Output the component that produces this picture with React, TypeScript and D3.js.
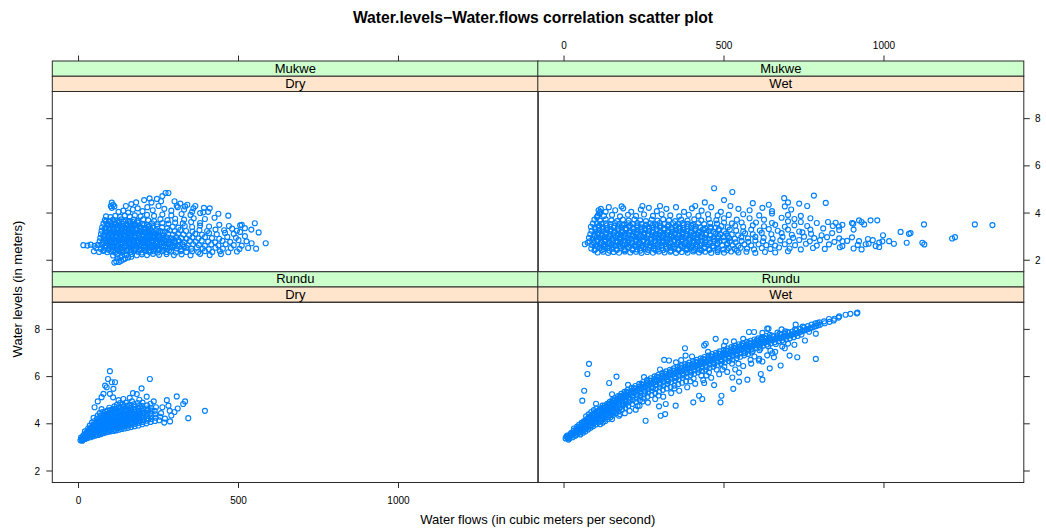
import React from 'react';
import * as d3 from 'd3';

const W = 1046;
const H = 529;

const titleText = 'Water.levels\u2212Water.flows correlation scatter plot';
const xLabel = 'Water flows (in cubic meters per second)';
const yLabel = 'Water levels (in meters)';
const sites = ['Mukwe', 'Rundu'];
const seasons = ['Dry', 'Wet'];
const xTicks = [0, 500, 1000];
const yTicks = [2, 4, 6, 8];
const xDomain = [-82, 1437];
const yDomain = [1.513, 9.15];

// Mukwe, Dry season: [flow, level]
const mukweDry: [number, number][] = [
  [108,2.2],[121,2.24],[136,2.19],[150,2.23],[166,2.26],[182,2.21],[198,2.25],[214,2.22],[233,2.27],[252,2.23],[275,2.26],[298,2.22],[322,2.25],[350,2.21],[380,2.27],[410,2.22],[445,2.26],
  [112,1.9],[118,1.95],[126,1.93],[133,1.98],[140,2.03],[146,2.07],[122,2.08],[155,2.12],[131,2.12],[165,2.15],
  [48,2.38],[64,2.35],[77,2.4],[90,2.34],[102,2.37],[114,2.33],[126,2.39],[138,2.35],[150,2.38],[162,2.34],[174,2.4],[186,2.36],[198,2.33],[210,2.39],[222,2.35],[235,2.38],[248,2.33],[261,2.39],[275,2.35],[289,2.37],[304,2.33],[320,2.39],[337,2.35],[355,2.38],[374,2.34],[395,2.39],[418,2.35],[442,2.38],[468,2.34],[495,2.37],
  [55,2.52],[70,2.48],[82,2.53],[95,2.49],[107,2.54],[119,2.5],[131,2.47],[143,2.53],[155,2.49],[167,2.54],[179,2.5],[191,2.47],[203,2.53],[215,2.49],[227,2.54],[239,2.5],[252,2.47],[265,2.53],[278,2.49],[292,2.54],[306,2.5],[321,2.47],[337,2.53],[353,2.49],[370,2.54],[388,2.5],[407,2.47],[428,2.53],[451,2.49],[476,2.52],[503,2.48],[530,2.52],[555,2.49],
  [15,2.64],[28,2.62],[38,2.66],[50,2.61],[60,2.65],
  [72,2.66],[84,2.63],[96,2.68],[108,2.64],[120,2.61],[132,2.67],[144,2.63],[156,2.68],[168,2.64],[180,2.61],[192,2.67],[204,2.63],[216,2.68],[228,2.64],[240,2.61],[253,2.67],[266,2.63],[280,2.68],[294,2.64],[309,2.61],[325,2.67],[341,2.63],[358,2.68],[376,2.64],[395,2.61],[415,2.67],[437,2.63],[460,2.68],[485,2.64],[510,2.62],[541,2.72],[585,2.72],
  [66,2.8],[78,2.77],[90,2.82],[102,2.78],[114,2.83],[126,2.79],[138,2.76],[150,2.82],[162,2.78],[174,2.83],[186,2.79],[198,2.76],[210,2.82],[222,2.78],[234,2.83],[246,2.79],[259,2.76],[272,2.82],[286,2.78],[300,2.83],[315,2.79],[331,2.76],[348,2.82],[366,2.78],[385,2.83],[405,2.79],[427,2.76],[450,2.82],[474,2.78],[500,2.85],[525,2.8],
  [68,2.95],[80,2.92],[92,2.97],[104,2.93],[116,2.98],[128,2.94],[140,2.91],[152,2.97],[164,2.93],[176,2.98],[188,2.94],[200,2.91],[212,2.97],[224,2.93],[236,2.98],[249,2.94],[262,2.91],[276,2.97],[290,2.93],[305,2.98],[321,2.94],[338,2.91],[356,2.97],[375,2.93],[395,2.98],[417,2.94],[440,2.91],[465,2.99],[492,2.95],[520,3.02],
  [70,3.1],[82,3.07],[94,3.12],[106,3.08],[118,3.13],[130,3.09],[142,3.06],[154,3.12],[166,3.08],[178,3.13],[190,3.09],[202,3.06],[214,3.12],[226,3.08],[239,3.13],[252,3.09],[266,3.06],[280,3.12],[295,3.08],[311,3.13],[328,3.09],[346,3.06],[365,3.12],[386,3.08],[408,3.15],[432,3.1],[458,3.16],[485,3.12],[505,3.2],[563,3.18],
  [72,3.25],[84,3.22],[96,3.27],[108,3.23],[120,3.28],[132,3.24],[144,3.21],[156,3.27],[168,3.23],[180,3.28],[192,3.24],[204,3.21],[216,3.27],[229,3.23],[242,3.28],[256,3.24],[270,3.21],[285,3.27],[301,3.23],[318,3.28],[336,3.24],[356,3.21],[378,3.28],[402,3.24],[428,3.3],[455,3.27],[480,3.34],
  [74,3.4],[86,3.37],[98,3.42],[110,3.38],[122,3.43],[134,3.39],[146,3.36],[158,3.42],[170,3.38],[182,3.43],[194,3.39],[206,3.36],[219,3.42],[232,3.38],[246,3.43],[261,3.39],[277,3.36],[294,3.42],[312,3.38],[332,3.45],[355,3.41],[380,3.47],[408,3.43],[440,3.5],[470,3.45],[505,3.48],
  [78,3.55],[90,3.52],[102,3.57],[114,3.53],[126,3.58],[138,3.54],[150,3.51],[162,3.57],[174,3.53],[187,3.58],[200,3.54],[214,3.51],[229,3.57],[245,3.53],[262,3.58],[281,3.55],[302,3.6],[326,3.56],[352,3.62],[380,3.58],[551,3.57],
  [82,3.7],[95,3.67],[108,3.72],[121,3.68],[134,3.73],[147,3.69],[160,3.66],[173,3.72],[187,3.68],[202,3.73],[218,3.69],[236,3.66],[256,3.74],[278,3.7],[302,3.76],[330,3.72],[360,3.78],[395,3.75],[425,3.8],
  [86,3.86],[100,3.83],[115,3.88],[130,3.84],[145,3.89],[160,3.85],[176,3.9],[194,3.86],[214,3.92],[236,3.88],[262,3.94],[290,3.9],[322,3.96],[350,3.92],
  [104,4.22],[101,4.3],[108,4.35],[104,4.44],[112,4.28],[125,4.05],[140,4.1],[155,4.02],[170,4.15],[148,4.3],[165,4.38],[185,4.2],[200,4.08],[215,4.25],[232,4.12],[250,4.3],[268,4.18],[290,4.1],[310,4.25],[330,4.15],[355,4.05],[380,4.0],
  [180,4.45],[205,4.55],[228,4.45],[245,4.6],[262,4.72],[272,4.85],[281,4.85],[300,4.5],[318,4.4],[340,4.35],[365,4.3],[392,4.22],[410,4.2],[258,4.5],[222,4.62],
  [307,4.31],[333,4.28],[359,4.2],[390,4.03],[405,4.05],[437,3.97],[468,3.89],[520,3.36],[510,3.5],[495,3.25],[540,3.3],
  [88,2.58],[101,2.6],[113,2.57],[125,2.59],[137,2.56],[149,2.6],[161,2.57],[173,2.59],[185,2.56],[197,2.6],[209,2.57],[221,2.59],[233,2.56],[246,2.6],[259,2.57],[272,2.59],[286,2.56],[300,2.6],[315,2.57],[331,2.59],
  [85,2.88],[97,2.86],[109,2.89],[121,2.87],[133,2.85],[145,2.89],[157,2.86],[169,2.88],[181,2.85],[193,2.89],[205,2.86],[217,2.88],[229,2.85],[241,2.89],[254,2.86],[267,2.88],[281,2.85],[296,2.89],[312,2.86],
  [88,3.18],[100,3.16],[112,3.19],[124,3.17],[136,3.15],[148,3.19],[160,3.16],[172,3.18],[184,3.15],[196,3.19],[208,3.16],[221,3.18],[234,3.15],[248,3.19],[263,3.16],
  [92,3.48],[104,3.46],[116,3.49],[128,3.47],[140,3.45],[152,3.49],[164,3.46],[176,3.48],[190,3.45],[205,3.49],[222,3.46],
  [80,2.43],[94,2.44],[108,2.42],[122,2.45],[136,2.43],[150,2.44],[164,2.42],[178,2.45],[192,2.43],[206,2.44],[220,2.42],[234,2.45],[250,2.43],[266,2.44],[283,2.42],
  [75,2.73],[89,2.74],[103,2.72],[117,2.75],[131,2.73],[145,2.74],[159,2.72],[173,2.75],[187,2.73],[201,2.74],[215,2.72],[229,2.75],[245,2.73],[262,2.74],[280,2.72],[300,2.75],
  [77,3.03],[91,3.04],[105,3.02],[119,3.05],[133,3.03],[147,3.04],[161,3.02],[175,3.05],[189,3.03],[203,3.04],[217,3.02],[232,3.05],[248,3.03],[265,3.04],
  [81,3.33],[95,3.34],[109,3.32],[123,3.35],[137,3.33],[151,3.34],[165,3.32],[179,3.35],[193,3.33],[208,3.34],[224,3.32],
  [85,3.63],[99,3.64],[113,3.62],[127,3.65],[141,3.63],[155,3.64],[169,3.62],[184,3.65]
];

// Mukwe, Wet season
const mukweWet: [number, number][] = [
  [105,2.33],[122,2.36],[138,2.31],[155,2.35],[172,2.32],[190,2.37],[207,2.33],[225,2.36],[242,2.31],[260,2.35],[278,2.32],[296,2.37],[314,2.33],[332,2.36],[350,2.31],[368,2.35],[386,2.32],[404,2.37],[422,2.33],[441,2.36],[460,2.31],[480,2.35],[500,2.32],[522,2.37],[545,2.33],[570,2.36],[598,2.31],[628,2.35],[660,2.33],[700,2.38],
  [85,2.5],[98,2.47],[111,2.52],[124,2.48],[137,2.53],[150,2.49],[163,2.46],[176,2.52],[189,2.48],[202,2.53],[215,2.49],[228,2.46],[241,2.52],[254,2.48],[267,2.53],[280,2.49],[293,2.46],[306,2.52],[319,2.48],[332,2.53],[345,2.49],[358,2.46],[371,2.52],[384,2.48],[397,2.53],[410,2.49],[424,2.46],[438,2.52],[452,2.48],[467,2.53],[482,2.49],[498,2.46],[515,2.52],[533,2.48],[552,2.53],[572,2.49],[594,2.46],[618,2.52],[645,2.48],[672,2.54],[705,2.5],[740,2.46],[778,2.52],[815,2.48],[862,2.55],[905,2.5],[930,2.46],[985,2.56],
  [65,2.68],[74,2.74],[88,2.65],[100,2.62],[112,2.67],[124,2.63],[136,2.68],[148,2.64],[160,2.61],[172,2.67],[184,2.63],[196,2.68],[208,2.64],[220,2.61],[232,2.67],[244,2.63],[256,2.68],[268,2.64],[280,2.61],[292,2.67],[304,2.63],[316,2.68],[328,2.64],[340,2.61],[352,2.67],[364,2.63],[376,2.68],[388,2.64],[400,2.61],[412,2.67],[425,2.63],[438,2.68],[451,2.64],[465,2.61],[479,2.67],[494,2.63],[510,2.68],[527,2.64],[545,2.61],[564,2.67],[585,2.63],[608,2.68],[632,2.64],[660,2.62],[690,2.68],[722,2.64],[756,2.7],[790,2.62],[828,2.67],[870,2.6],[918,2.65],[952,2.7],[1031,2.7],[1071,2.74],[1120,2.74],[1126,2.67],
  [80,2.8],[92,2.77],[104,2.82],[116,2.78],[128,2.83],[140,2.79],[152,2.76],[164,2.82],[176,2.78],[188,2.83],[200,2.79],[212,2.76],[224,2.82],[236,2.78],[248,2.83],[260,2.79],[272,2.76],[284,2.82],[296,2.78],[308,2.83],[320,2.79],[332,2.76],[344,2.82],[356,2.78],[368,2.83],[380,2.79],[392,2.76],[404,2.82],[416,2.78],[429,2.83],[442,2.79],[456,2.76],[470,2.82],[485,2.78],[501,2.83],[518,2.79],[536,2.76],[555,2.82],[576,2.78],[598,2.84],[622,2.8],[648,2.76],[676,2.84],[704,2.8],[735,2.86],[768,2.8],[800,2.85],[845,2.78],[885,2.82],[965,2.85],[995,2.8],
  [78,2.95],[90,2.92],[102,2.97],[114,2.93],[126,2.98],[138,2.94],[150,2.91],[162,2.97],[174,2.93],[186,2.98],[198,2.94],[210,2.91],[222,2.97],[234,2.93],[246,2.98],[258,2.94],[270,2.91],[282,2.97],[294,2.93],[306,2.98],[318,2.94],[330,2.91],[342,2.97],[354,2.93],[366,2.98],[378,2.94],[390,2.91],[402,2.97],[414,2.93],[427,2.98],[440,2.94],[454,2.91],[468,2.97],[483,2.93],[499,2.98],[516,2.94],[534,2.91],[554,2.97],[575,2.93],[598,2.99],[624,2.95],[652,2.91],[683,2.99],[716,2.95],[750,3.0],[782,2.94],[822,2.98],[860,2.93],[900,2.97],[1213,2.92],[1222,2.98],
  [82,3.1],[94,3.07],[106,3.12],[118,3.08],[130,3.13],[142,3.09],[154,3.06],[166,3.12],[178,3.08],[190,3.13],[202,3.09],[214,3.06],[226,3.12],[238,3.08],[250,3.13],[262,3.09],[274,3.06],[286,3.12],[298,3.08],[310,3.13],[322,3.09],[334,3.06],[346,3.12],[358,3.08],[370,3.13],[382,3.09],[394,3.06],[406,3.12],[418,3.08],[431,3.13],[444,3.09],[458,3.06],[473,3.12],[489,3.08],[506,3.13],[524,3.09],[544,3.06],[566,3.14],[590,3.1],[618,3.16],[648,3.1],[680,3.15],[712,3.08],[745,3.18],[772,3.12],[805,3.06],[838,3.15],[1052,3.2],[1078,3.12],[1083,3.15],
  [86,3.25],[98,3.22],[110,3.27],[122,3.23],[134,3.28],[146,3.24],[158,3.21],[170,3.27],[182,3.23],[194,3.28],[206,3.24],[218,3.21],[230,3.27],[242,3.23],[254,3.28],[266,3.24],[278,3.21],[290,3.27],[302,3.23],[314,3.28],[326,3.24],[338,3.21],[350,3.27],[362,3.23],[374,3.28],[386,3.24],[398,3.21],[411,3.27],[424,3.23],[438,3.28],[452,3.24],[467,3.21],[483,3.27],[500,3.23],[518,3.3],[538,3.26],[560,3.22],[585,3.3],[612,3.26],[640,3.32],[668,3.25],[700,3.3],[735,3.22],[770,3.3],[810,3.35],[860,3.28],[905,3.3],
  [84,3.42],[96,3.38],[108,3.43],[120,3.39],[132,3.36],[144,3.42],[156,3.38],[168,3.43],[180,3.39],[192,3.36],[204,3.42],[216,3.38],[228,3.43],[240,3.39],[252,3.36],[264,3.42],[276,3.38],[288,3.43],[300,3.39],[312,3.36],[324,3.42],[336,3.38],[348,3.43],[360,3.39],[372,3.36],[385,3.42],[398,3.38],[412,3.43],[426,3.39],[441,3.36],[457,3.42],[474,3.38],[492,3.45],[512,3.4],[535,3.46],[560,3.42],[590,3.48],[625,3.44],[660,3.5],[690,3.42],[720,3.48],[760,3.45],[840,3.45],[870,3.5],[1125,3.52],[1284,3.52],[1339,3.49],
  [90,3.55],[103,3.58],[117,3.54],[131,3.57],[145,3.53],[159,3.58],[173,3.54],[187,3.51],[201,3.57],[215,3.53],[229,3.58],[243,3.54],[257,3.51],[271,3.57],[285,3.53],[299,3.58],[313,3.54],[327,3.51],[341,3.57],[356,3.53],[371,3.58],[387,3.54],[403,3.51],[420,3.57],[438,3.53],[457,3.58],[478,3.55],[500,3.6],[525,3.56],[555,3.6],[600,3.6],[650,3.58],[700,3.65],[740,3.62],[790,3.58],[825,3.62],[900,3.58],[930,3.62],
  [95,3.72],[112,3.68],[130,3.73],[148,3.69],[166,3.66],[184,3.72],[202,3.68],[220,3.73],[238,3.69],[256,3.66],[274,3.72],[292,3.68],[310,3.73],[328,3.69],[347,3.66],[366,3.72],[386,3.68],[407,3.73],[429,3.69],[452,3.75],[476,3.7],[500,3.78],[540,3.72],[580,3.78],[625,3.72],[680,3.8],[720,3.75],[770,3.78],
  [103,3.82],[106,3.9],[110,3.98],[113,4.05],[108,4.12],[115,4.18],[104,3.85],
  [125,3.88],[150,3.92],[175,3.86],[200,3.93],[225,3.88],[250,3.94],[278,3.88],[305,3.95],[332,3.9],[360,3.86],[390,3.93],[420,3.88],[450,3.95],[480,3.9],[515,3.92],[560,3.95],[610,3.9],[650,3.98],[700,3.92],[740,3.88],
  [130,4.05],[160,4.12],[185,4.2],[210,4.05],[240,4.15],[265,4.22],[290,4.08],[320,4.18],[350,4.25],[375,4.05],[400,4.2],[430,4.1],[460,4.25],[490,4.05],[520,4.3],[545,4.18],[580,4.12],[620,4.22],[650,4.08],[690,4.28],[710,4.15],[245,4.3],[180,4.28],[140,4.25],[300,4.3],[410,4.3],
  [469,5.05],[526,4.89],[781,4.74],[688,4.63],[818,4.43],[440,4.45],[590,4.42],[500,4.55],[640,4.35],[735,4.4],[760,4.3],[700,4.45],
  [849,3.59],[859,3.43],[922,3.69],[958,3.69],[979,3.69],[938,3.52],[904,3.55],[870,2.81],[922,2.81],[943,2.68],[974,2.6],[1016,2.81],[997,3.06],[985,2.75],[950,2.9],
  [95,2.42],[118,2.43],[142,2.41],[166,2.44],[190,2.42],[214,2.43],[238,2.41],[262,2.44],[286,2.42],[310,2.43],[334,2.41],[358,2.44],[382,2.42],[406,2.43],[430,2.41],[455,2.44],[480,2.42],[510,2.43],[540,2.41],
  [94,2.72],[118,2.73],[142,2.71],[166,2.74],[190,2.72],[214,2.73],[238,2.71],[262,2.74],[286,2.72],[310,2.73],[334,2.71],[358,2.74],[382,2.72],[406,2.73],[430,2.71],[455,2.74],[480,2.72],[510,2.73],
  [96,3.02],[120,3.03],[144,3.01],[168,3.04],[192,3.02],[216,3.03],[240,3.01],[264,3.04],[288,3.02],[312,3.03],[336,3.01],[360,3.04],[384,3.02],[408,3.03],[432,3.01],[457,3.04],[482,3.02],[512,3.03],
  [98,3.32],[122,3.33],[146,3.31],[170,3.34],[194,3.32],[218,3.33],[242,3.31],[266,3.34],[290,3.32],[314,3.33],[338,3.31],[362,3.34],[386,3.32],[410,3.33],[434,3.31],[459,3.34],[484,3.32],
  [104,2.57],[128,2.58],[152,2.56],[176,2.59],[200,2.57],[224,2.58],[248,2.56],[272,2.59],[296,2.57],[320,2.58],[344,2.56],[368,2.59],[392,2.57],[416,2.58],[440,2.56],[465,2.59],
  [106,2.87],[130,2.88],[154,2.86],[178,2.89],[202,2.87],[226,2.88],[250,2.86],[274,2.89],[298,2.87],[322,2.88],[346,2.86],[370,2.89],[394,2.87],[418,2.88],[442,2.86],[467,2.89],
  [108,3.17],[132,3.18],[156,3.16],[180,3.19],[204,3.17],[228,3.18],[252,3.16],[276,3.19],[300,3.17],[324,3.18],[348,3.16],[372,3.19],[396,3.17],[420,3.18],[444,3.16],
  [110,3.47],[134,3.48],[158,3.46],[182,3.49],[206,3.47],[230,3.48],[254,3.46],[278,3.49],[302,3.47],[326,3.48],[350,3.46],[374,3.49],[398,3.47]
];

// Rundu, Dry season
const runduDry: [number, number][] = [
  [6,3.3],[9,3.36],[12,3.28],[8,3.42],
  [15,3.33],[17,3.4],[14,3.48],[18,3.55],
  [21,3.36],[23,3.44],[22,3.52],[24,3.6],[20,3.68],
  [28,3.4],[30,3.48],[31,3.56],[29,3.64],[32,3.72],[30,3.8],
  [37,3.43],[38,3.51],[39,3.59],[36,3.67],[40,3.75],[38,3.83],[35,3.92],
  [45,3.47],[46,3.55],[47,3.63],[44,3.71],[48,3.79],[46,3.87],[45,3.96],[42,4.05],
  [53,3.5],[55,3.58],[54,3.66],[52,3.74],[56,3.82],[54,3.9],[53,4.0],[50,4.12],[47,4.25],
  [61,3.53],[63,3.61],[62,3.69],[60,3.77],[64,3.85],[62,3.93],[61,4.02],[63,4.12],[58,4.22],[60,4.35],
  [69,3.56],[71,3.64],[70,3.72],[68,3.8],[72,3.88],[70,3.96],[69,4.05],[71,4.14],[68,4.24],[70,4.34],[66,4.45],
  [77,3.6],[79,3.68],[78,3.76],[76,3.84],[80,3.92],[78,4.0],[77,4.08],[79,4.17],[76,4.27],[78,4.37],[75,4.5],[72,4.62],
  [85,3.63],[87,3.71],[86,3.79],[84,3.87],[88,3.95],[86,4.03],[85,4.12],[87,4.21],[84,4.3],[86,4.4],[83,4.52],
  [93,3.66],[95,3.74],[94,3.82],[92,3.9],[96,3.98],[94,4.06],[93,4.15],[95,4.24],[92,4.34],[94,4.44],[91,4.56],[96,4.68],
  [101,3.68],[103,3.77],[102,3.85],[100,3.93],[104,4.01],[102,4.09],[101,4.18],[103,4.27],[100,4.37],[102,4.47],[99,4.58],
  [109,3.7],[111,3.79],[110,3.88],[108,3.96],[112,4.04],[110,4.12],[109,4.21],[111,4.3],[108,4.4],[110,4.5],[107,4.62],[112,4.74],
  [117,3.72],[119,3.82],[118,3.91],[116,3.99],[120,4.07],[118,4.15],[117,4.24],[119,4.33],[116,4.43],[118,4.53],[115,4.64],[120,4.8],
  [126,3.75],[128,3.85],[127,3.94],[125,4.02],[129,4.1],[127,4.18],[126,4.27],[128,4.36],[125,4.46],[127,4.56],[124,4.68],[130,4.88],
  [135,3.78],[137,3.88],[136,3.97],[134,4.05],[138,4.13],[136,4.21],[135,4.3],[137,4.39],[134,4.49],[136,4.59],[133,4.71],[138,4.82],
  [144,3.8],[146,3.91],[145,4.0],[143,4.08],[147,4.16],[145,4.24],[144,4.33],[146,4.42],[143,4.52],[145,4.62],[142,4.74],[148,4.9],
  [154,3.83],[156,3.94],[155,4.03],[153,4.11],[157,4.19],[155,4.27],[154,4.36],[156,4.45],[153,4.55],[155,4.65],[152,4.77],
  [164,3.86],[166,3.97],[165,4.06],[163,4.14],[167,4.22],[165,4.3],[164,4.39],[166,4.48],[163,4.58],[165,4.68],[162,4.8],[167,4.95],
  [175,3.9],[177,4.0],[176,4.09],[174,4.17],[178,4.25],[176,4.33],[175,4.42],[177,4.51],[174,4.61],[176,4.71],[173,4.83],
  [187,3.93],[189,4.04],[188,4.13],[186,4.21],[190,4.29],[188,4.37],[187,4.46],[189,4.55],[186,4.65],[188,4.75],[185,4.88],[190,5.02],
  [199,3.98],[201,4.08],[200,4.17],[198,4.26],[202,4.35],[200,4.44],[199,4.54],[201,4.64],[198,4.76],[200,4.9],
  [212,4.02],[214,4.13],[213,4.23],[211,4.33],[215,4.43],[213,4.53],[212,4.65],[214,4.78],[213,5.15],
  [225,4.08],[227,4.2],[226,4.32],[224,4.44],[228,4.56],[226,4.68],[225,4.85],
  [239,4.12],[241,4.26],[240,4.4],[238,4.55],[242,4.7],[235,4.95],
  [252,4.15],[258,4.45],[262,4.7],[255,4.3],[270,4.22],[276,5.0],[281,4.77],[286,4.1],[290,4.35],[300,4.5],[307,5.16],[327,4.84],[333,4.95],[343,4.24],[395,4.55],[268,4.05],[285,4.55],[310,4.65],
  [98,6.23],[223,5.9],[92,5.9],[104,5.76],[114,5.76],[83,5.62],[88,5.55],[109,5.48],[78,5.27],[72,5.13],[98,5.27],[197,5.5],[182,5.26],[160,5.1],[140,5.05],[125,5.0],[170,5.3],[60,4.95],[50,4.7],[108,5.12],
  [11,3.32],[19,3.44],[26,3.48],[34,3.54],[42,3.59],[50,3.62],[58,3.66],[66,3.7],[74,3.73],[82,3.77],[90,3.8],[98,3.83],[106,3.86],[114,3.88],[122,3.9],[131,3.93],[140,3.96],[150,3.99],[160,4.02],[170,4.05],[181,4.08],[193,4.12],[205,4.16],[218,4.2],
  [26,3.64],[34,3.68],[42,3.72],[50,3.77],[58,3.81],[66,3.86],[74,3.9],[82,3.95],[90,3.99],[98,4.03],[106,4.07],[114,4.11],[122,4.14],[131,4.18],[140,4.22],[150,4.26],[160,4.3],[170,4.34],[181,4.38],[193,4.42],[205,4.46],
  [50,3.93],[66,4.1],[82,4.26],[98,4.42],[114,4.47],[131,4.52],[150,4.6],[170,4.63],[193,4.7],[218,4.6]
];

// Rundu, Wet season
const runduWet: [number, number][] = [
  [5,3.38],[7,3.45],[12,3.4],[10,3.5],[14,3.33],
  [18,3.47],[20,3.57],[17,3.38],
  [25,3.52],[23,3.62],[27,3.43],
  [32,3.6],[30,3.7],[34,3.5],[31,3.8],
  [40,3.68],[38,3.78],[42,3.58],[41,3.88],
  [48,3.75],[46,3.86],[50,3.65],[47,3.96],[51,3.55],
  [56,3.83],[54,3.94],[58,3.72],[55,4.04],[59,3.62],
  [64,3.9],[62,4.01],[66,3.79],[63,4.12],[67,3.68],
  [72,3.98],[70,4.09],[74,3.87],[71,4.2],[75,3.76],[69,4.32],
  [80,4.06],[78,4.17],[82,3.95],[79,4.28],[83,3.83],[77,4.4],
  [88,4.14],[86,4.25],[90,4.02],[87,4.36],[91,3.9],[85,4.5],
  [96,4.22],[94,4.33],[98,4.1],[95,4.44],[99,3.97],[93,4.58],
  [104,4.3],[102,4.41],[106,4.18],[103,4.52],[107,4.05],[101,4.66],
  [112,4.37],[110,4.49],[114,4.25],[111,4.6],[115,4.12],[113,3.98],
  [120,4.45],[118,4.57],[122,4.33],[119,4.68],[123,4.2],[121,4.05],
  [128,4.53],[126,4.65],[130,4.41],[127,4.77],[131,4.28],[129,4.12],
  [136,4.61],[134,4.73],[138,4.48],[135,4.85],[139,4.35],[137,4.2],
  [144,4.69],[142,4.81],[146,4.56],[143,4.93],[147,4.43],[145,4.28],
  [152,4.77],[150,4.89],[154,4.64],[151,5.01],[155,4.5],[153,4.36],
  [160,4.85],[158,4.97],[162,4.72],[159,5.09],[163,4.58],[161,4.44],
  [170,4.94],[168,5.06],[172,4.81],[169,5.18],[173,4.67],[171,4.52],
  [180,5.03],[178,5.15],[182,4.9],[179,5.27],[183,4.76],[181,4.6],
  [190,5.12],[188,5.24],[192,4.99],[189,5.36],[193,4.84],[191,4.68],
  [200,5.2],[198,5.32],[202,5.07],[199,5.44],[203,4.92],[201,4.76],
  [212,5.28],[210,5.4],[214,5.15],[211,5.52],[215,5.0],[213,4.84],
  [224,5.36],[222,5.48],[226,5.23],[223,5.6],[227,5.08],[225,4.92],
  [236,5.45],[234,5.57],[238,5.32],[235,5.69],[239,5.17],[237,5.0],
  [248,5.53],[246,5.65],[250,5.4],[247,5.77],[251,5.25],[249,5.08],
  [260,5.61],[258,5.73],[262,5.48],[259,5.85],[263,5.33],[261,5.15],
  [272,5.69],[270,5.81],[274,5.56],[271,5.93],[275,5.41],[273,5.22],
  [284,5.77],[282,5.89],[286,5.64],[283,6.01],[287,5.48],[285,5.3],
  [296,5.84],[294,5.96],[298,5.71],[295,6.08],[299,5.55],[297,5.37],
  [308,5.91],[306,6.03],[310,5.78],[307,6.15],[311,5.62],[309,5.44],
  [320,5.98],[318,6.1],[322,5.85],[319,6.22],[323,5.69],[321,5.5],
  [332,6.05],[330,6.17],[334,5.92],[331,6.29],[335,5.76],[333,5.56],
  [344,6.11],[342,6.23],[346,5.98],[343,6.35],[347,5.82],[345,5.62],
  [356,6.17],[354,6.29],[358,6.04],[355,6.41],[359,5.88],[357,5.68],
  [368,6.23],[366,6.35],[370,6.1],[367,6.47],[371,5.94],[369,5.74],
  [380,6.29],[378,6.41],[382,6.16],[379,6.53],[383,6.0],[381,5.8],
  [392,6.35],[390,6.47],[394,6.22],[391,6.59],[395,6.06],
  [404,6.41],[402,6.53],[406,6.28],[403,6.65],[407,6.12],[405,5.92],
  [416,6.47],[414,6.59],[418,6.34],[415,6.71],[419,6.18],
  [428,6.53],[426,6.65],[430,6.4],[427,6.77],[431,6.24],[429,6.05],
  [440,6.59],[438,6.71],[442,6.46],[439,6.83],[443,6.3],
  [452,6.65],[450,6.77],[454,6.52],[451,6.89],[455,6.36],[453,6.18],
  [464,6.71],[462,6.83],[466,6.58],[463,6.95],[467,6.42],
  [476,6.77],[474,6.89],[478,6.64],[475,7.01],[479,6.48],[477,6.3],
  [488,6.83],[486,6.95],[490,6.7],[487,7.07],[491,6.54],
  [500,6.89],[498,7.01],[502,6.76],[499,7.13],[503,6.6],[501,6.42],
  [512,6.95],[510,7.07],[514,6.82],[511,7.19],[515,6.66],
  [524,7.01],[522,7.13],[526,6.88],[523,7.25],[527,6.72],[525,6.55],
  [536,7.07],[534,7.19],[538,6.94],[535,7.31],[539,6.78],
  [548,7.13],[546,7.25],[550,7.0],[547,7.37],[551,6.84],
  [560,7.18],[558,7.3],[562,7.06],[559,7.42],[563,6.9],
  [572,7.23],[570,7.35],[574,7.11],[571,7.47],[575,6.96],
  [584,7.28],[582,7.4],[586,7.16],[583,7.52],[587,7.02],
  [596,7.33],[594,7.45],[598,7.21],[595,7.57],
  [608,7.38],[606,7.5],[610,7.26],[607,7.62],[611,7.12],
  [620,7.43],[618,7.55],[622,7.31],[619,7.67],
  [632,7.48],[630,7.6],[634,7.36],[631,7.72],
  [644,7.53],[642,7.65],[646,7.41],[643,7.77],
  [656,7.58],[654,7.7],[658,7.46],
  [668,7.62],[666,7.74],[670,7.5],[667,7.86],
  [680,7.66],[678,7.78],[682,7.54],
  [692,7.7],[690,7.82],[694,7.58],[691,7.92],
  [704,7.74],[702,7.86],[706,7.62],
  [716,7.79],[714,7.91],[718,7.67],
  [728,7.84],[726,7.96],[730,7.72],
  [740,7.9],[738,8.02],[742,7.78],
  [752,7.96],[750,8.08],
  [764,8.02],[762,8.14],[766,7.9],
  [776,8.08],[774,8.2],
  [788,8.14],[786,8.26],
  [800,8.2],[798,8.3],
  [815,8.26],[813,8.34],
  [830,8.32],[828,8.44],
  [845,8.45],[843,8.38],
  [860,8.55],[858,8.5],
  [880,8.62],[895,8.66],[917,8.71],[915,8.68],
  [78,6.54],[73,6.11],[63,5.4],[141,5.73],[164,6.0],[302,4.34],[316,4.41],[297,4.74],[349,4.77],[404,4.91],[432,5.05],[422,5.19],
  [378,7.2],[474,7.6],[505,7.49],[531,7.49],[573,5.87],[615,6.11],[620,5.87],[547,6.17],[526,5.96],[469,5.64],[438,5.73],
  [705,6.89],[729,6.82],[787,7.82],[753,7.53],[656,6.82],[651,6.99],[620,6.64],[583,6.71],[438,7.32],[635,8.03],[594,7.89],
  [724,8.2],[792,8.27],[682,7.28],[57,4.98],[120,4.77],[172,4.34],[224,4.6],[255,4.13],[236,4.77],[318,4.84],
  [443,7.39],[578,7.89],[615,7.6],[639,8.03],[787,6.75],[677,6.47],[643,6.35],[609,6.68],[547,5.79],[492,5.19],[489,4.91],
  [529,5.48],[380,6.89],[328,6.68],[313,6.71],[366,6.7],
  [150,4.2],[175,4.4],[205,4.55],[230,4.75],[262,4.9],[285,5.05],[310,5.15],[335,5.3],[360,5.4],[385,5.55],[410,5.7],[435,5.85],[460,5.95],[485,6.1],[510,6.2],[535,6.3],[560,6.45],[585,6.55],[610,6.75],[635,6.9],[660,7.05],[690,7.2],[720,7.35],
  [190,4.45],[245,4.95],[295,5.2],[345,5.5],[395,5.8],[445,6.05],[495,6.3],[545,6.55],[595,6.85],[645,7.1],[700,7.4],
  [200,5.65],[250,5.98],[300,6.3],[350,6.6],[400,6.85],[450,7.05],[500,7.3],[560,7.6],[620,7.85],[680,8.0],[150,5.25],[100,4.85],
  [10,3.44],[22,3.52],[36,3.66],[44,3.74],[52,3.82],[60,3.89],[68,3.96],[76,4.04],[84,4.12],[92,4.2],[100,4.28],[108,4.36],[116,4.43],[124,4.51],[132,4.59],[140,4.67],[148,4.75],[156,4.83],[165,4.9],[175,4.99],[185,5.08],[195,5.17],[206,5.25],[218,5.33],[230,5.41],[242,5.5],[254,5.58],[266,5.66],[278,5.74],[290,5.82],[302,5.89],[314,5.96],[326,6.03],[338,6.09],[350,6.15],[362,6.21],[374,6.27],[386,6.33],[398,6.39],[410,6.45],[422,6.51],[434,6.57],[446,6.63],[458,6.69],[470,6.75],[482,6.81],[494,6.87],[506,6.93],[518,6.99],[530,7.05],[542,7.11],[554,7.16],[566,7.21],[578,7.26],[590,7.31],[602,7.36],[614,7.41],[626,7.46],[638,7.51],[650,7.56],[662,7.6],[674,7.64],[686,7.68],[698,7.72],[710,7.77],[722,7.82],[734,7.88],[746,7.94],[758,8.0],[770,8.06],[782,8.12],[794,8.18],
  [36,3.5],[52,3.64],[68,3.78],[84,3.93],[100,4.08],[116,4.22],[132,4.37],[148,4.52],[165,4.67],[185,4.84],[206,5.02],[230,5.2],[254,5.36],[278,5.52],[302,5.66],[326,5.8],[350,5.93],[374,6.05],[398,6.17],[422,6.29],[446,6.41],[470,6.53],[494,6.65],[518,6.77],[542,6.89],[566,6.99],[590,7.09],[614,7.19],[638,7.29],[662,7.38],[686,7.46],
  [60,4.07],[76,4.22],[92,4.38],[108,4.54],[124,4.69],[140,4.85],[156,5.0],[175,5.17],[195,5.35],[218,5.51],[242,5.68],[266,5.84],[290,6.0],[314,6.14],[338,6.27],[362,6.39],[386,6.51],[410,6.63],[434,6.75],[458,6.87],[482,6.99],[506,7.11],[530,7.23],[554,7.34],[578,7.44],[602,7.54],[626,7.64],[650,7.74],[674,7.82],[698,7.9],[722,8.0],[746,8.12]
];

const panels = [
  { site: sites[0], season: seasons[0], col: 0, row: 0, data: mukweDry },
  { site: sites[0], season: seasons[1], col: 1, row: 0, data: mukweWet },
  { site: sites[1], season: seasons[0], col: 0, row: 1, data: runduDry },
  { site: sites[1], season: seasons[1], col: 1, row: 1, data: runduWet },
];

const FONT = '"Liberation Sans", Arial, Helvetica, sans-serif';
const LINE = '#2a2a2a';
const PT = '#0080ff';

export default function App() {
  const panelW = 486;
  const stripH = 15.25;
  const panelH = 180.25;
  const colX = [52.3, 537.8];
  const rowY = [61, 61 + 2 * stripH + panelH];

  const x = d3.scaleLinear().domain(xDomain).range([0, panelW]);
  const y = d3.scaleLinear().domain(yDomain).range([panelH, 0]);

  const bottomY = rowY[1] + 2 * stripH + panelH;
  const rightX = colX[1] + panelW;

  return (
    <svg width={W} height={H} style={{ position: 'absolute', left: 0, top: 0, background: '#fff' }} fontFamily={FONT}>
      <defs>
        {panels.map((p, i) => (
          <clipPath id={`clip${i}`} key={i}>
            <rect x={0} y={0} width={panelW} height={panelH} />
          </clipPath>
        ))}
      </defs>
      <text x={533} y={23.4} textAnchor="middle" fontSize={15.7} fontWeight="bold" fill="#000">{titleText}</text>

      {panels.map((p, i) => {
        const px = colX[p.col];
        const py = rowY[p.row];
        const top = py + 2 * stripH;
        return (
          <g key={i}>
            <rect x={px} y={py} width={panelW} height={stripH} fill="#ccffcc" stroke={LINE} strokeWidth={1} />
            <text x={px + panelW / 2} y={py + 11.6} textAnchor="middle" fontSize={13} fill="#000">{p.site}</text>
            <rect x={px} y={py + stripH} width={panelW} height={stripH} fill="#ffe5cc" stroke={LINE} strokeWidth={1} />
            <text x={px + panelW / 2} y={py + stripH + 11.6} textAnchor="middle" fontSize={13} fill="#000">{p.season}</text>
            <g transform={`translate(${px},${top})`}>
              <g clipPath={`url(#clip${i})`}>
                {p.data.map((d, j) => (
                  <circle key={j} cx={x(d[0])} cy={y(d[1])} r={2.5} fill="none" stroke={PT} strokeWidth={1.15} />
                ))}
              </g>
              <rect x={0} y={0} width={panelW} height={panelH} fill="none" stroke={LINE} strokeWidth={1} />
            </g>
          </g>
        );
      })}

      {colX.map((cx, c) => (
        <g key={`ta${c}`}>
          {xTicks.map((t) => (
            <g key={t}>
              <line x1={cx + x(t)} x2={cx + x(t)} y1={rowY[0]} y2={rowY[0] - 5.5} stroke={LINE} />
              {c === 1 && (
                <text x={cx + x(t)} y={49.3} textAnchor="middle" fontSize={10} fill="#000">{t}</text>
              )}
            </g>
          ))}
        </g>
      ))}
      {colX.map((cx, c) => (
        <g key={`ba${c}`}>
          {xTicks.map((t) => (
            <g key={t}>
              <line x1={cx + x(t)} x2={cx + x(t)} y1={bottomY} y2={bottomY + 5.5} stroke={LINE} />
              {c === 0 && (
                <text x={cx + x(t)} y={503.7} textAnchor="middle" fontSize={10} fill="#000">{t}</text>
              )}
            </g>
          ))}
        </g>
      ))}
      {rowY.map((ry, r) => {
        const top = ry + 2 * stripH;
        return (
          <g key={`ya${r}`}>
            {yTicks.map((t) => (
              <g key={t}>
                <line x1={colX[0]} x2={colX[0] - 6} y1={top + y(t)} y2={top + y(t)} stroke={LINE} />
                <line x1={rightX} x2={rightX + 6} y1={top + y(t)} y2={top + y(t)} stroke={LINE} />
                {r === 1 && (
                  <text x={40} y={top + y(t) + 3.6} textAnchor="end" fontSize={10} fill="#000">{t}</text>
                )}
                {r === 0 && (
                  <text x={1035} y={top + y(t) + 3.6} textAnchor="start" fontSize={10} fill="#000">{t}</text>
                )}
              </g>
            ))}
          </g>
        );
      })}

      <text x={537.8} y={524} textAnchor="middle" fontSize={13} fill="#000">{xLabel}</text>
      <text transform="translate(21.6,289) rotate(-90)" textAnchor="middle" fontSize={13} fill="#000">{yLabel}</text>
    </svg>
  );
}
